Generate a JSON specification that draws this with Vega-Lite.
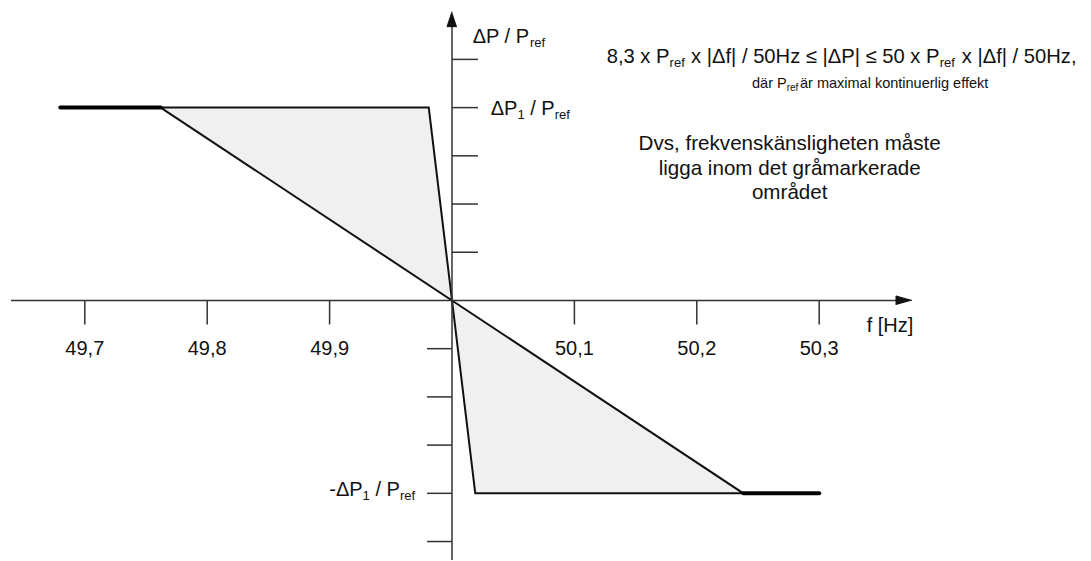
{
  "$schema": "https://vega.github.io/schema/vega-lite/v6.json",
  "width": 1091,
  "height": 561,
  "autosize": {"type": "fit", "contains": "padding"},
  "padding": 0,
  "background": "white",
  "config": {"view": {"stroke": null}, "text": {"font": "Liberation Sans", "color": "#111"}},
  "datasets": {
    "band": [
      {"poly": "upper", "i": 0, "f": 49.762, "p": 4},
      {"poly": "upper", "i": 1, "f": 49.981, "p": 4},
      {"poly": "upper", "i": 2, "f": 50.0, "p": 0},
      {"poly": "upper", "i": 3, "f": 49.762, "p": 4},
      {"poly": "lower", "i": 0, "f": 50.0, "p": 0},
      {"poly": "lower", "i": 1, "f": 50.019, "p": -4},
      {"poly": "lower", "i": 2, "f": 50.238, "p": -4},
      {"poly": "lower", "i": 3, "f": 50.0, "p": 0}
    ],
    "limits": [
      {"seg": "left", "i": 0, "f": 49.68, "p": 4},
      {"seg": "left", "i": 1, "f": 49.762, "p": 4},
      {"seg": "right", "i": 0, "f": 50.238, "p": -4},
      {"seg": "right", "i": 1, "f": 50.3, "p": -4}
    ],
    "axisLines": [
      {"f": 49.6397, "f2": 50.3636, "p": 0, "p2": 0},
      {"f": 50, "f2": 50, "p": -5.383, "p2": 5.68},
      {"f": 49.7, "f2": 49.7, "p": 0, "p2": -0.497},
      {"f": 49.8, "f2": 49.8, "p": 0, "p2": -0.497},
      {"f": 49.9, "f2": 49.9, "p": 0, "p2": -0.497},
      {"f": 50.1, "f2": 50.1, "p": 0, "p2": -0.497},
      {"f": 50.2, "f2": 50.2, "p": 0, "p2": -0.497},
      {"f": 50.3, "f2": 50.3, "p": 0, "p2": -0.497},
      {"f": 50, "f2": 50.0212, "p": 1, "p2": 1},
      {"f": 50, "f2": 50.0212, "p": 2, "p2": 2},
      {"f": 50, "f2": 50.0212, "p": 3, "p2": 3},
      {"f": 50, "f2": 50.0212, "p": 4, "p2": 4},
      {"f": 50, "f2": 50.0212, "p": 5, "p2": 5},
      {"f": 49.9796, "f2": 50, "p": -1, "p2": -1},
      {"f": 49.9796, "f2": 50, "p": -2, "p2": -2},
      {"f": 49.9796, "f2": 50, "p": -3, "p2": -3},
      {"f": 49.9796, "f2": 50, "p": -4, "p2": -4},
      {"f": 49.9796, "f2": 50, "p": -5, "p2": -5}
    ],
    "arrows": [
      {"id": "f", "i": 0, "f": 50.37582, "p": 0},
      {"id": "f", "i": 1, "f": 50.36275, "p": 0.0932},
      {"id": "f", "i": 2, "f": 50.36275, "p": -0.0932},
      {"id": "P", "i": 0, "f": 50.0, "p": 5.9896},
      {"id": "P", "i": 1, "f": 49.99592, "p": 5.6791},
      {"id": "P", "i": 2, "f": 50.00408, "p": 5.6791}
    ],
    "textLeft": [
      {"text": "ΔP / P", "f": 50.01691, "p": 5.3354, "size": 20},
      {"text": "ref", "f": 50.06373, "p": 5.2588, "size": 13},
      {"text": "ΔP", "f": 50.03162, "p": 3.8509, "size": 20},
      {"text": "1", "f": 50.05343, "p": 3.7681, "size": 13},
      {"text": "/ P", "f": 50.06389, "p": 3.8509, "size": 20},
      {"text": "ref", "f": 50.08391, "p": 3.7681, "size": 13},
      {"text": "-ΔP", "f": 49.89975, "p": -4.0518, "size": 20},
      {"text": "1", "f": 49.92696, "p": -4.1346, "size": 13},
      {"text": "/ P", "f": 49.93742, "p": -4.0518, "size": 20},
      {"text": "ref", "f": 49.95743, "p": -4.1346, "size": 13},
      {"text": "f [Hz]", "f": 50.33881, "p": -0.6625, "size": 20},
      {"text": "8,3 x P", "f": 50.12639, "p": 4.9172, "size": 20.2},
      {"text": "ref", "f": 50.17779, "p": 4.8344, "size": 13},
      {"text": "x |Δf| / 50Hz ≤ |ΔP| ≤ 50 x P", "f": 50.19528, "p": 4.9172, "size": 20.2},
      {"text": "ref", "f": 50.39842, "p": 4.8344, "size": 13},
      {"text": "x |Δf| / 50Hz,", "f": 50.41642, "p": 4.9172, "size": 20.2},
      {"text": "där P", "f": 50.2451, "p": 4.4099, "size": 14.5},
      {"text": "ref", "f": 50.27345, "p": 4.3478, "size": 10},
      {"text": "är maximal kontinuerlig effekt", "f": 50.28431, "p": 4.4099, "size": 14.5}
    ],
    "textCenter": [
      {"text": "49,7", "f": 49.7, "p": -1.1387, "size": 20},
      {"text": "49,8", "f": 49.8, "p": -1.1387, "size": 20},
      {"text": "49,9", "f": 49.9, "p": -1.1387, "size": 20},
      {"text": "50,1", "f": 50.1, "p": -1.1387, "size": 20},
      {"text": "50,2", "f": 50.2, "p": -1.1387, "size": 20},
      {"text": "50,3", "f": 50.3, "p": -1.1387, "size": 20},
      {"text": "Dvs, frekvenskänsligheten måste", "f": 50.2759, "p": 3.1159, "size": 20.6},
      {"text": "ligga inom det gråmarkerade", "f": 50.2759, "p": 2.6087, "size": 20.6},
      {"text": "området", "f": 50.2759, "p": 2.1014, "size": 20.6}
    ]
  },
  "encoding": {
    "x": {"field": "f", "type": "quantitative", "axis": null,
          "scale": {"domain": [49.630719, 50.522059], "nice": false, "zero": false}},
    "y": {"field": "p", "type": "quantitative", "axis": null,
          "scale": {"domain": [-5.383023, 6.231884], "nice": false, "zero": false}}
  },
  "layer": [
    {
      "data": {"name": "band"},
      "mark": {"type": "line", "fill": "#f0f0f0", "stroke": "#111", "strokeWidth": 2, "strokeJoin": "miter"},
      "encoding": {"detail": {"field": "poly"}, "order": {"field": "i", "type": "quantitative"}}
    },
    {
      "data": {"name": "limits"},
      "mark": {"type": "line", "stroke": "#000", "strokeWidth": 4, "strokeCap": "round"},
      "encoding": {"detail": {"field": "seg"}, "order": {"field": "i", "type": "quantitative"}}
    },
    {
      "data": {"name": "axisLines"},
      "mark": {"type": "rule", "stroke": "#333", "strokeWidth": 1.5},
      "encoding": {
        "x2": {"field": "f2"},
        "y2": {"field": "p2"}
      }
    },
    {
      "data": {"name": "arrows"},
      "mark": {"type": "line", "fill": "#111", "stroke": "#111", "strokeWidth": 1},
      "encoding": {"detail": {"field": "id"}, "order": {"field": "i", "type": "quantitative"}}
    },
    {
      "data": {"name": "textLeft"},
      "mark": {"type": "text", "align": "left", "baseline": "alphabetic"},
      "encoding": {
        "text": {"field": "text"},
        "size": {"field": "size", "type": "quantitative", "scale": null}
      }
    },
    {
      "data": {"name": "textCenter"},
      "mark": {"type": "text", "align": "center", "baseline": "alphabetic"},
      "encoding": {
        "text": {"field": "text"},
        "size": {"field": "size", "type": "quantitative", "scale": null}
      }
    }
  ]
}
